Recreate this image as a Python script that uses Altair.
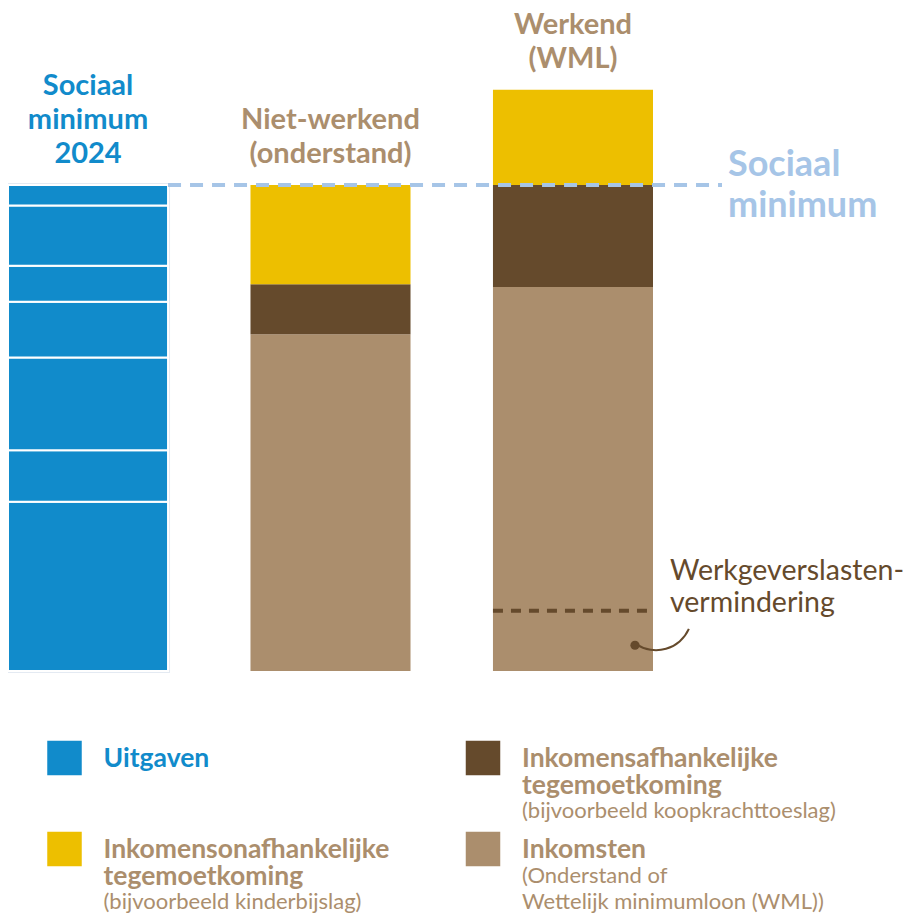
import altair as alt
import pandas as pd

# ---------------- data ----------------
bars = ["Sociaal minimum 2024", "Niet-werkend (onderstand)", "Werkend (WML)"]
bar_titles = [["Sociaal", "minimum", "2024"], ["Niet-werkend", "(onderstand)"], ["Werkend", "(WML)"]]

# blue "Uitgaven" segments of the sociaal minimum, bottom -> top (sociaal minimum = 100)
uitgaven = [34.8, 10.6, 19.1, 11.5, 7.4, 12.4, 4.2]

components = ["Inkomsten", "Inkomensafhankelijke tegemoetkoming", "Inkomensonafhankelijke tegemoetkoming"]
niet_werkend = [69.3, 10.3, 20.4]
werkend = [79.0, 21.0, 19.6]

sociaal_minimum = 100
werkgeverslastenvermindering = 12.4
annotatie_anker = 5.3

legend_names = ["Uitgaven", "Inkomensafhankelijke tegemoetkoming",
                "Inkomensonafhankelijke tegemoetkoming", "Inkomsten"]
legend_titles = [["Uitgaven"], ["Inkomensafhankelijke", "tegemoetkoming"],
                 ["Inkomensonafhankelijke", "tegemoetkoming"], ["Inkomsten"]]
legend_subtitles = [[], ["(bijvoorbeeld koopkrachttoeslag)"],
                    ["(bijvoorbeeld kinderbijslag)"], ["(Onderstand of", "Wettelijk minimumloon (WML))"]]

# ---------------- styles ----------------
BLUE = "#118BCB"
YELLOW = "#EDBF00"
DARK = "#654A2C"
BEIGE = "#AB8E6D"
LIGHTBLUE = "#A6C5E7"
FONT = "Lato"

color_scale = alt.Scale(domain=["Uitgaven"] + components, range=[BLUE, BEIGE, DARK, YELLOW])
x_scale = alt.Scale(domain=bars, range=[0, 645], paddingInner=0.34, paddingOuter=0)
y_scale = alt.Scale(domain=[0, 100], range=[663, 177])

# ---------------- tables ----------------
seg_df = pd.DataFrame([{"bar": bars[0], "component": "Uitgaven", "value": v, "order": i}
                       for i, v in enumerate(uitgaven)])
inc_rows = []
for b, vals in ((bars[1], niet_werkend), (bars[2], werkend)):
    for i, (c, v) in enumerate(zip(components, vals)):
        inc_rows.append({"bar": b, "component": c, "value": v, "order": i})
inc_df = pd.DataFrame(inc_rows)

totals = [sum(uitgaven), sum(niet_werkend), sum(werkend)]
title_rows = []
for b, lines, tot in zip(bars, bar_titles, totals):
    n = len(lines)
    for i, t in enumerate(lines):
        title_rows.append({"bar": b, "text": t, "k": n - 1 - i, "total": tot})
title_df = pd.DataFrame(title_rows)

outline_df = pd.DataFrame({"bar": [bars[0]], "total": [sum(uitgaven)]})
sm_df = pd.DataFrame({"from": [bars[0]], "value": [sociaal_minimum],
                      "label": ["Sociaal\nminimum"], "bar": [bars[2]]})
wlv_df = pd.DataFrame({"bar": [bars[2]], "value": [werkgeverslastenvermindering],
                       "label": ["Werkgeverslasten-\nvermindering"]})
anchor_df = pd.DataFrame({"bar": [bars[2]], "value": [annotatie_anker]})

X = alt.X("bar:N", scale=x_scale, axis=None)

# ---------------- main layers ----------------
outline = alt.Chart(outline_df).mark_bar(color="#E4EAF2", stroke="#E4EAF2", strokeWidth=4).encode(
    x=X, y=alt.Y("total:Q", scale=y_scale, axis=None))

blue = alt.Chart(seg_df).mark_bar(stroke="white", strokeWidth=2).encode(
    x=X,
    y=alt.Y("value:Q", stack="zero", scale=y_scale, axis=None),
    color=alt.Color("component:N", scale=color_scale, legend=None),
    order=alt.Order("order:Q"))

income = alt.Chart(inc_df).mark_bar().encode(
    x=X,
    y=alt.Y("value:Q", stack="zero", scale=y_scale, axis=None),
    color=alt.Color("component:N", scale=color_scale, legend=None),
    order=alt.Order("order:Q"))

sm_rule = alt.Chart(sm_df).mark_rule(color=LIGHTBLUE, strokeWidth=4, strokeDash=[13, 9]).encode(
    x=alt.X("from:N", scale=x_scale, bandPosition=1, axis=None),
    x2=alt.value(714),
    y=alt.Y("value:Q", scale=y_scale, axis=None))

sm_label = alt.Chart(sm_df).mark_text(
    align="left", baseline="alphabetic", dx=155, dy=-9, fontSize=36, fontWeight="bold",
    lineHeight=41, lineBreak="\n", color=LIGHTBLUE, font=FONT).encode(
    x=X, y=alt.Y("value:Q", scale=y_scale, axis=None), text="label:N")

wlv_rule = alt.Chart(wlv_df).mark_rule(color=DARK, strokeWidth=4, strokeDash=[10, 8]).encode(
    x=alt.X("bar:N", scale=x_scale, bandPosition=0, axis=None),
    x2=alt.X2("bar", bandPosition=1),
    y=alt.Y("value:Q", scale=y_scale, axis=None))

wlv_label = alt.Chart(wlv_df).mark_text(
    align="left", baseline="alphabetic", dx=97, dy=-31, fontSize=28.5, lineHeight=32,
    lineBreak="\n", color=DARK, font=FONT).encode(
    x=X, y=alt.Y("value:Q", scale=y_scale, axis=None), text="label:N")

dot = alt.Chart(anchor_df).mark_circle(size=85, color=DARK, opacity=1, xOffset=62).encode(
    x=X, y=alt.Y("value:Q", scale=y_scale, axis=None))

arc = alt.Chart(anchor_df).mark_arc(theta=1.99, theta2=3.73, radius=37, radius2=35,
                                     color=DARK, xOffset=83, yOffset=-31).encode(
    x=X, y=alt.Y("value:Q", scale=y_scale, axis=None))

title_layers = []
for k in range(3):
    title_layers.append(
        alt.Chart(title_df).transform_filter(alt.datum.k == k).mark_text(
            baseline="alphabetic", dy=-22 - 34 * k, fontSize=29, fontWeight="bold", font=FONT
        ).encode(
            x=X, y=alt.Y("total:Q", scale=y_scale, axis=None), text="text:N",
            color=alt.condition(alt.datum.bar == bars[0], alt.value(BLUE), alt.value(BEIGE))))

main = alt.layer(outline, blue, income, sm_rule, wlv_rule, dot, arc, *title_layers, sm_label, wlv_label)

# ---------------- legend ----------------
leg_rows = []
for i, (name, tl, sl) in enumerate(zip(legend_names, legend_titles, legend_subtitles)):
    for j, t in enumerate(tl + sl):
        leg_rows.append({"name": name, "idx": i, "line": j, "text": t,
                         "kind": "title" if j < len(tl) else "sub"})
leg_lines = pd.DataFrame(leg_rows)
leg_items = pd.DataFrame({"name": legend_names, "idx": list(range(len(legend_names)))})

LX = alt.X("lcol:Q", scale=alt.Scale(domain=[0, 1], range=[56.5, 475]), axis=None)
LY = alt.Y("lrow:Q", scale=alt.Scale(domain=[0, 1], range=[750, 841]), axis=None)
calc = dict(lcol="datum.idx % 2", lrow="floor(datum.idx / 2)")

squares = alt.Chart(leg_items).transform_calculate(**calc).mark_square(size=1190, opacity=1).encode(
    x=LX, y=LY, color=alt.Color("name:N", scale=color_scale, legend=None))

leg_text_layers = []
for j in range(3):
    leg_text_layers.append(
        alt.Chart(leg_lines).transform_calculate(**calc).transform_filter(
            (alt.datum.line == j) & (alt.datum.kind == "title")
        ).mark_text(align="left", baseline="alphabetic", dx=39, dy=9 + 27 * j, fontSize=26.5,
                    fontWeight="bold", font=FONT).encode(
            x=LX, y=LY, text="text:N",
            color=alt.condition(alt.datum.name == "Uitgaven", alt.value(BLUE), alt.value(BEIGE))))
    leg_text_layers.append(
        alt.Chart(leg_lines).transform_calculate(**calc).transform_filter(
            (alt.datum.line == j) & (alt.datum.kind == "sub")
        ).mark_text(align="left", baseline="alphabetic", dx=39, dy=8 + 26 * j, fontSize=22,
                    color=BEIGE, font=FONT).encode(
            x=LX, y=LY, text="text:N"))

legend = alt.layer(squares, *leg_text_layers)

chart = alt.layer(main, legend).resolve_scale(x="independent", y="independent").properties(
    width=897, height=907, autosize=alt.AutoSizeParams(type="none"), padding=0
).configure(font=FONT).configure_view(stroke=None)

chart.save("out.html", embed_options={"renderer": "svg", "actions": False})
